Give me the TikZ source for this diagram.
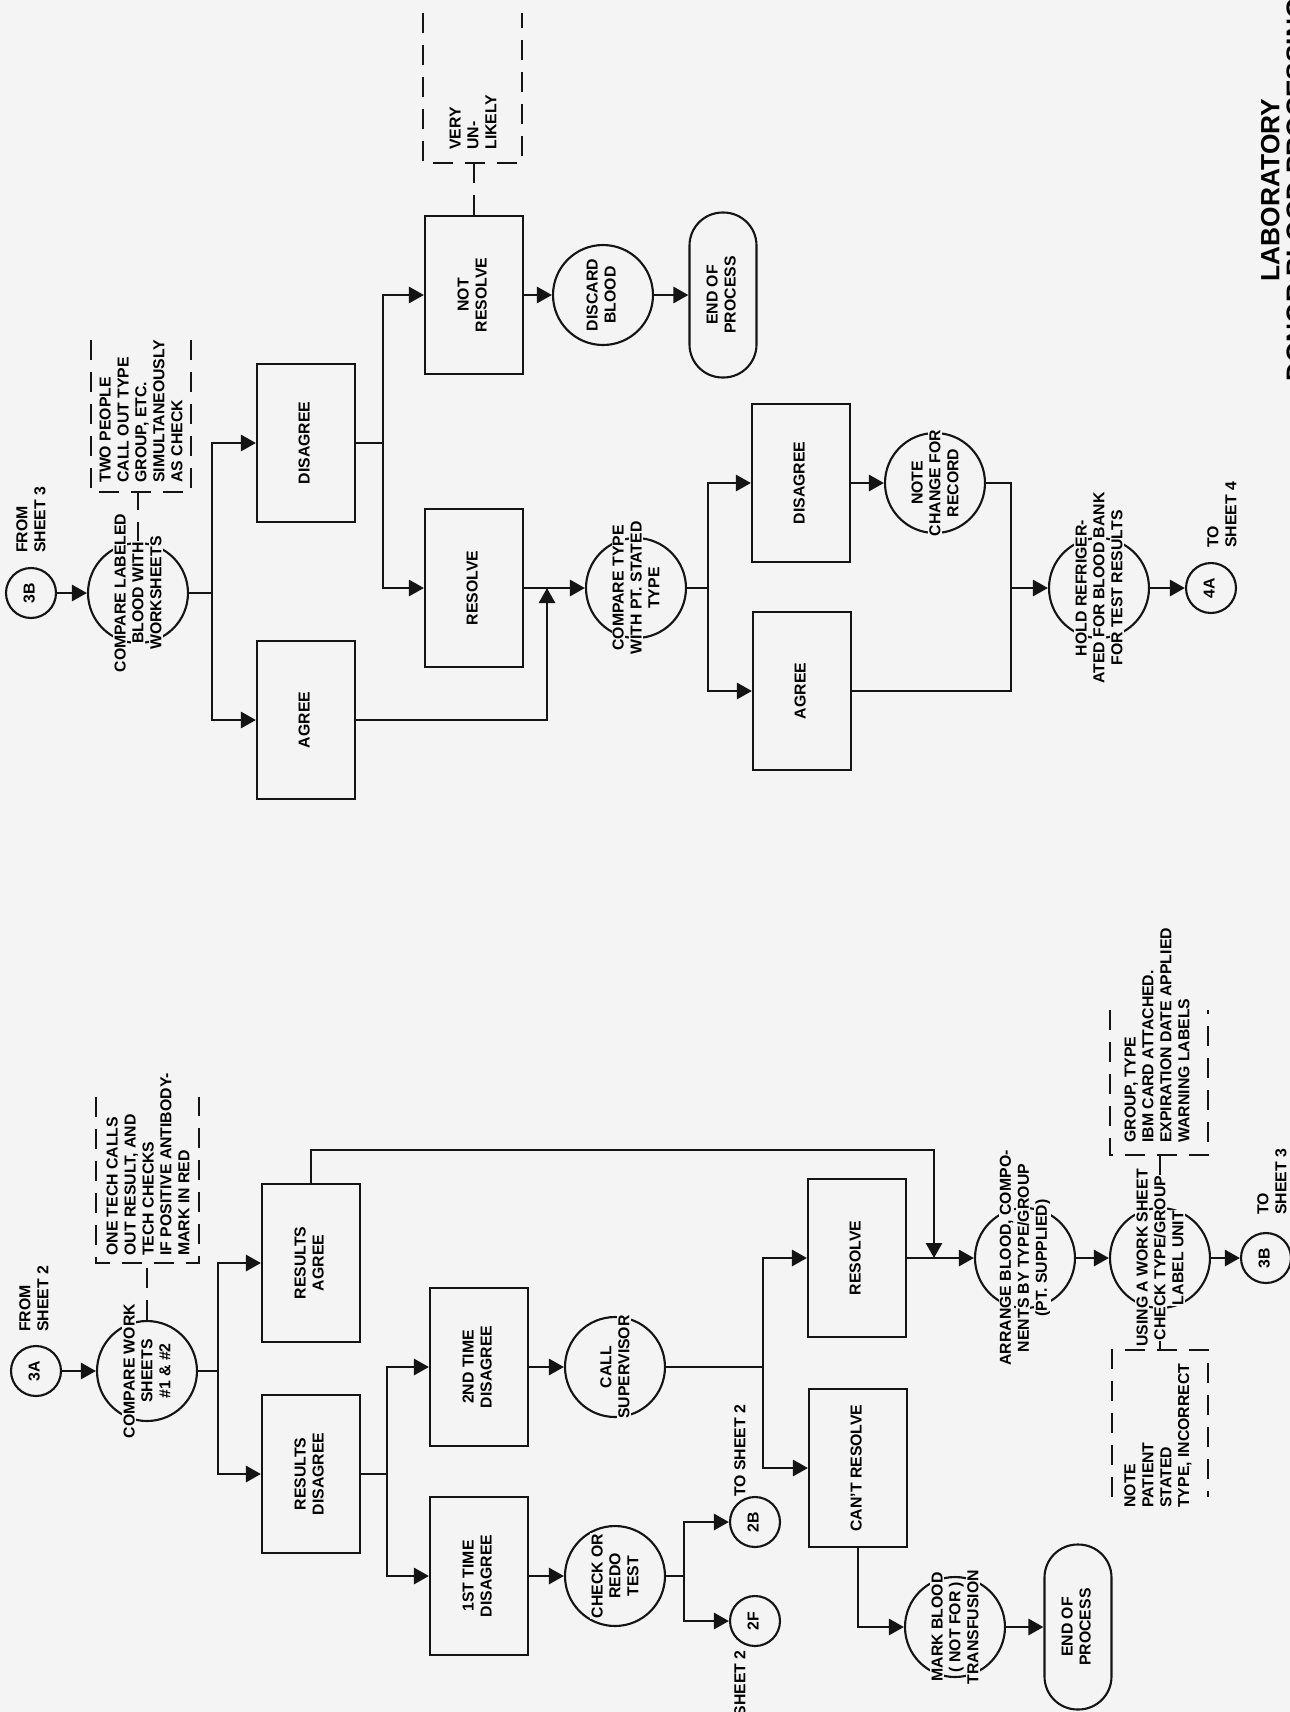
\documentclass[tikz,border=0pt]{standalone}
\usepackage{graphicx}
\usepackage{fontspec}
\setmainfont{Liberation Sans}
\usetikzlibrary{arrows.meta}

\definecolor{paper}{RGB}{244,244,244}
\definecolor{ink}{RGB}{20,20,20}
% rotated text block, and a text line that masks what lies under it
\newcommand{\vtxt}[1]{\rotatebox{90}{\begin{tabular}{@{}c@{}}#1\end{tabular}}}
\newcommand{\bgl}[1]{{\setlength{\fboxsep}{0.6pt}\colorbox{paper}{#1}}}

\begin{document}
\begin{tikzpicture}[
  x=0.02cm, y=-0.02cm,
  font=\bfseries\fontsize{9}{10.2}\selectfont,
  box/.style={draw=ink, line width=1.2pt, minimum width=1.96cm, minimum height=3.16cm, inner sep=0pt},
  proc/.style={circle, draw=ink, line width=1.2pt, minimum size=2cm, inner sep=0pt},
  conn/.style={circle, draw=ink, line width=1.2pt, minimum size=1cm, inner sep=0pt},
  term/.style={draw=ink, line width=1.2pt, rounded corners=0.66cm, minimum width=1.34cm,
    minimum height=3.3cm, inner sep=0pt},
  ctext/.style={rotate=90, align=center, inner sep=0pt},
  ntext/.style={rotate=90, align=left, inner sep=0pt, anchor=west},
  link/.style={draw=ink, line width=1.6pt},
  flow/.style={link, -{Triangle[length=3mm, width=3.2mm]}},
  notebox/.style={draw=ink, line width=1.4pt, dash pattern=on 4mm off 2.4mm}
]
\useasboundingbox (0,0) rectangle (1290,1712);
\fill[paper] (0,0) rectangle (1290,1712);
\clip (0,0) rectangle (1290,1712);

% from sheet 3
\node[conn] (c3b) at (31,593) {\vtxt{3B}};
\node[proc] (cmplb) at (138,593) {};
\node[box] (dis1) at (306,443) {\vtxt{DISAGREE}};
\node[box] (agr1) at (306,720) {\vtxt{AGREE}};
\node[box] (nres) at (474,295) {\vtxt{NOT\\RESOLVE}};
\node[box] (res1) at (474,588) {\vtxt{RESOLVE}};
\node[proc] (disc) at (603,295) {\vtxt{DISCARD\\BLOOD}};
\node[term] (end2) at (723,295) {\vtxt{END OF\\PROCESS}};
\node[proc] (cmpt) at (636,588) {};
\node[box] (dis2) at (801,483) {\vtxt{DISAGREE}};
\node[box] (agr2) at (802,691) {\vtxt{AGREE}};
\node[proc] (notec) at (935,483) {};
\node[proc] (hold) at (1099,588) {};
\node[conn] (c4a) at (1211,588) {\vtxt{4A}};
\coordinate (j5) at (212,593);
\coordinate (j6) at (383,443);
\coordinate (m2) at (547,588);
\coordinate (j7) at (708,588);
\coordinate (j8) at (1011,588);
\coordinate (nTwo) at (141,492);
\coordinate (nVery) at (472.5,163);

% from sheet 2
\node[conn] (c3a) at (36,1371) {\vtxt{3A}};
\node[proc] (cmpws) at (147,1371) {};
\node[box] (ragree) at (311,1263) {\vtxt{RESULTS\\AGREE}};
\node[box] (rdis) at (311,1474) {\vtxt{RESULTS\\DISAGREE}};
\node[box] (sec) at (479,1367) {\vtxt{2ND TIME\\DISAGREE}};
\node[box] (fst) at (479,1576) {\vtxt{1ST TIME\\DISAGREE}};
\node[proc] (call) at (615,1367) {};
\node[proc] (chk) at (615,1576) {};
\node[conn] (c2b) at (755,1522) {\vtxt{2B}};
\node[conn] (c2f) at (755,1621) {\vtxt{2F}};
\node[box] (res2) at (857,1258) {\vtxt{RESOLVE}};
\node[box] (cant) at (858,1468) {\vtxt{CAN'T RESOLVE}};
\node[proc] (markb) at (955,1627) {};
\node[term] (end1) at (1078,1627) {\vtxt{END OF\\PROCESS}};
\node[proc] (arr) at (1025,1258) {};
\node[proc] (usg) at (1160,1258) {};
\node[conn] (c3bo) at (1266,1258) {\vtxt{3B}};
\coordinate (j1) at (218,1371);
\coordinate (j2) at (387,1474);
\coordinate (j3) at (684,1576);
\coordinate (j4) at (763,1367);
\coordinate (m1) at (934,1258);
\coordinate (nOne) at (147.5,1263);
\coordinate (nGroup) at (1159,1155);
\coordinate (nPat) at (1160,1350);

% connectors, sheet 3 side
\draw[flow] (c3b) -- (cmplb);
\draw[link] (cmplb) -- (j5);
\draw[flow] (j5) |- (dis1);
\draw[flow] (j5) |- (agr1);
\draw[link] (dis1) -- (j6);
\draw[flow] (j6) |- (nres);
\draw[flow] (j6) |- (res1);
\draw[flow] (nres) -- (disc);
\draw[flow] (disc) -- (end2);
\draw[flow] (res1) -- (cmpt);
\draw[flow] (agr1) -| (m2);
\draw[link] (cmpt) -- (j7);
\draw[flow] (j7) |- (dis2);
\draw[flow] (j7) |- (agr2);
\draw[flow] (dis2) -- (notec);
\draw[link] (notec) -| (j8);
\draw[link] (agr2) -| (j8);
\draw[flow] (j8) -- (hold);
\draw[flow] (hold) -- (c4a);

% connectors, sheet 2 side
\draw[flow] (c3a) -- (cmpws);
\draw[link] (cmpws) -- (j1);
\draw[flow] (j1) |- (ragree);
\draw[flow] (j1) |- (rdis);
\draw[link] (rdis) -- (j2);
\draw[flow] (j2) |- (sec);
\draw[flow] (j2) |- (fst);
\draw[flow] (sec) -- (call);
\draw[flow] (fst) -- (chk);
\draw[link] (chk) -- (j3);
\draw[flow] (j3) |- (c2b);
\draw[flow] (j3) |- (c2f);
\draw[link] (call) -- (j4);
\draw[flow] (j4) |- (res2);
\draw[flow] (j4) |- (cant);
\draw[flow] (res2) -- (arr);
\draw[flow] (ragree.north) -- ++(0,-33) -| (m1);
\draw[flow] (arr) -- (usg);
\draw[flow] (usg) -- (c3bo);
\draw[flow] (cant) |- (markb);
\draw[flow] (markb) -- (end1);

% notes
\draw[notebox] (cmplb) -- (cmplb |- nTwo);
\draw[notebox] (nTwo) ++(-50,-152) -- ++(0,152) -- ++(100,0) -- ++(0,-152);
\draw[notebox] (nres) -- (nres |- nVery);
\draw[notebox] (nVery) ++(-49.5,-150) -- ++(0,150) -- ++(99,0) -- ++(0,-150);
\draw[notebox] (cmpws) -- (cmpws |- nOne);
\draw[notebox] (nOne) ++(-51.5,-166) -- ++(0,166) -- ++(103,0) -- ++(0,-166);
\draw[notebox] (usg) -- (usg |- nGroup);
\draw[notebox] (nGroup) ++(-49,-145) -- ++(0,145) -- ++(98,0) -- ++(0,-145);
\draw[notebox] (usg) -- (usg |- nPat);
\draw[notebox] (nPat) ++(-48,147) -- ++(0,-147) -- ++(96,0) -- ++(0,147);

% texts over the circles
\node[ctext] at (cmplb) {\bgl{COMPARE LABELED}\\\bgl{BLOOD WITH}\\\bgl{WORKSHEETS}};
\node[ctext] at (cmpt) {\bgl{COMPARE TYPE}\\\bgl{WITH PT. STATED}\\\bgl{TYPE}};
\node[ctext] at (notec) {\bgl{NOTE}\\\bgl{CHANGE FOR}\\\bgl{RECORD}};
\node[ctext] at (hold) {\bgl{HOLD REFRIGER-}\\\bgl{ATED FOR BLOOD BANK}\\\bgl{FOR TEST RESULTS}};
\node[ctext] at (cmpws) {\bgl{COMPARE WORK}\\\bgl{SHEETS}\\\bgl{\#1 \& \#2}};
\node[ctext] at (call) {\bgl{CALL}\\\bgl{SUPERVISOR}};
\node[ctext] at (chk) {\bgl{CHECK OR}\\\bgl{REDO}\\\bgl{TEST}};
\node[ctext] at (markb) {\bgl{MARK BLOOD}\\\bgl{( NOT FOR )}\\\bgl{TRANSFUSION}};
\node[ctext] at (arr) {\bgl{ARRANGE BLOOD, COMPO-}\\\bgl{NENTS BY TYPE/GROUP}\\\bgl{(PT. SUPPLIED)}};
\node[ctext] at (usg) {\bgl{USING A WORK SHEET}\\\bgl{CHECK TYPE/GROUP}\\\bgl{LABEL UNIT}};

% note texts and sheet labels
\node[ntext] (tTwo) at (141,483) {TWO PEOPLE\\CALL OUT TYPE\\GROUP, ETC.\\SIMULTANEOUSLY\\AS CHECK};
\node[ntext] (tVery) at (473,150) {VERY\\UN-\\LIKELY};
\node[ntext] (tOne) at (148,1256) {ONE TECH CALLS\\OUT RESULT, AND\\TECH CHECKS\\IF POSITIVE ANTIBODY-\\MARK IN RED};
\node[ntext] (tGroup) at (1157,1143) {GROUP, TYPE\\IBM CARD ATTACHED.\\EXPIRATION DATE APPLIED\\WARNING LABELS};
\node[ntext] (tPat) at (1158,1508) {NOTE\\PATIENT\\STATED\\TYPE, INCORRECT};
\node[ntext] (lFrom3) at (31,553) {FROM\\SHEET 3};
\node[ntext] (lTo4) at (1222,548) {TO\\SHEET 4};
\node[ntext] (lFrom2) at (34,1332) {FROM\\SHEET 2};
\node[ntext] (lTo2b) at (740,1497) {TO SHEET 2};
\node[ntext, anchor=east] (lTo2f) at (740,1650) {TO SHEET 2};
\node[ntext] (lTo3) at (1272,1215) {TO\\SHEET 3};

\node[rotate=90, align=center, font=\bfseries\fontsize{15}{14.5}\selectfont] (title) at (1283,190)
  {LABORATORY\\DONOR BLOOD PROCESSING};
\end{tikzpicture}
\end{document}
